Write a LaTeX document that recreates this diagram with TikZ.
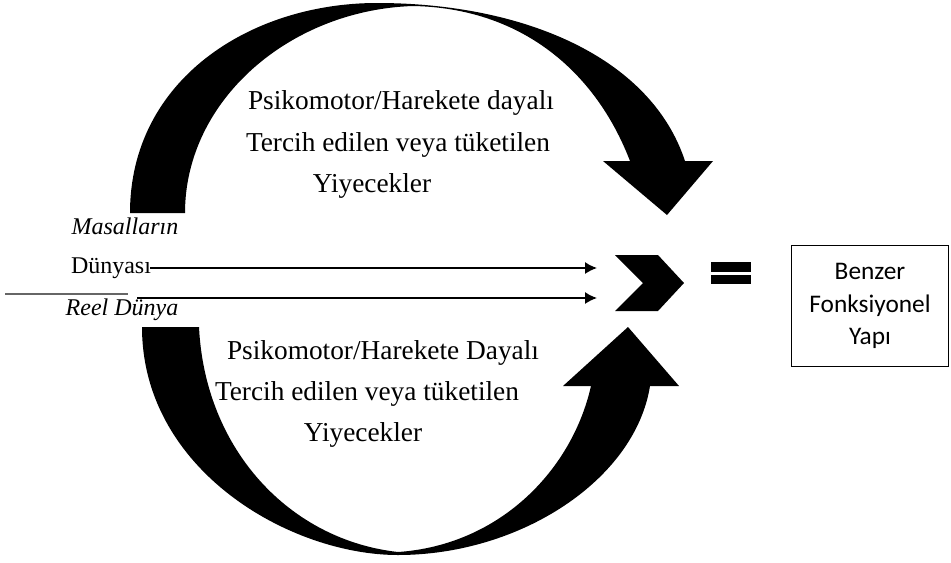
\documentclass[tikz,border=0pt]{standalone}
\usepackage{fontspec}
\setmainfont{Liberation Serif}
\newfontfamily\boxfont{Carlito}
\usepackage{tikz}
\usetikzlibrary{arrows.meta}
\tikzset{%
  >={Latex[width=9pt,length=9pt]},
  % Specifications for style of nodes and shapes:
       mainText/.style = {inner sep=0pt, font=\fontsize{20.5}{24}\selectfont},
       sideText/.style = {inner sep=0pt, font=\fontsize{18}{22}\selectfont},
    sideItalic/.style = {sideText, font=\fontsize{18}{22}\selectfont\itshape},
     resultBox/.style = {rectangle, draw=black, line width=0.8pt,
                         minimum width=117.75pt, minimum height=91pt,
                         align=center, font=\boxfont\fontsize{19}{24.4}\selectfont},
      curvedArr/.style = {fill=black, draw=none},
       thinLine/.style = {line width=1.1pt},
}
\begin{document}
\begin{tikzpicture}[x=0.75pt, y=-0.75pt, node distance=30.75pt]
  \useasboundingbox (0,0) rectangle (951,562);
  % Curved arrow above
  \fill[curvedArr] (130,213) .. controls (130,80) and (250,3) .. (377,3)
        .. controls (520,3) and (650,55) .. (685,161)
        -- (713,161) -- (667,215) -- (603,161) -- (630,161)
        .. controls (595,70) and (520,8) .. (413,6)
        .. controls (290,10) and (185,100) .. (185,213) -- cycle;
  % Curved arrow below
  \fill[curvedArr] (142,327) .. controls (142,470) and (290,555) .. (398,555)
        .. controls (520,555) and (635,480) .. (650,386)
        -- (679,386) -- (628,327) -- (563,386) -- (591,386)
        .. controls (572,470) and (500,545) .. (398,552)
        .. controls (290,540) and (205,450) .. (199,327) -- cycle;
  % Specification of nodes (position, etc.)
  \node (topLineA) [mainText] at (401,103) {Psikomotor/Harekete dayalı};
  \node (topLineB) [mainText, below of=topLineA, yshift=-0.75pt, xshift=-2.25pt]
                                              {Tercih edilen veya tüketilen};
  \node (topLineC) [mainText, below of=topLineB, xshift=-19.5pt] {Yiyecekler};
  \node (botLineA) [mainText] at (383,353) {Psikomotor/Harekete Dayalı};
  \node (botLineB) [mainText, below of=botLineA, xshift=-12pt]
                                              {Tercih edilen veya tüketilen};
  \node (botLineC) [mainText, below of=botLineB, xshift=-3pt] {Yiyecekler};
  \node (masal)    [sideItalic] at (125,226) {Masalların};
  \node (dunyasi)  [sideText]   at (111,268) {Dünyası};
  \node (reel)     [sideItalic] at (122,310) {Reel Dünya};
  \node (result)   [resultBox]  at (870,306) {Benzer\\Fonksiyonel\\Yapı};
  % Free ends of the straight arrows
  \coordinate (dunyaFrom) at (150,268);
  \coordinate (reelFrom)  at (137,298);
  \coordinate (dunyaTo)   at (597,268);
  \coordinate (reelTo)    at (597,298);
  \coordinate (ruleFrom)  at (5,294);
  \coordinate (ruleTo)    at (128,294);
  % Chevron and equals sign
  \fill (615,255) -- (658,255) -- (684,283) -- (658,311) -- (615,311)
        -- (643,283) -- cycle;
  \fill (711,262) rectangle (751,272);
  \fill (711,275) rectangle (751,284);
  % Specification of lines
  \draw[->, thinLine] (dunyaFrom) -- (dunyaTo);
  \draw[->, thinLine]  (reelFrom) -- (reelTo);
  \draw[gray!80!black, line width=0.9pt] (ruleFrom) -- (ruleTo);
\end{tikzpicture}
\end{document}
